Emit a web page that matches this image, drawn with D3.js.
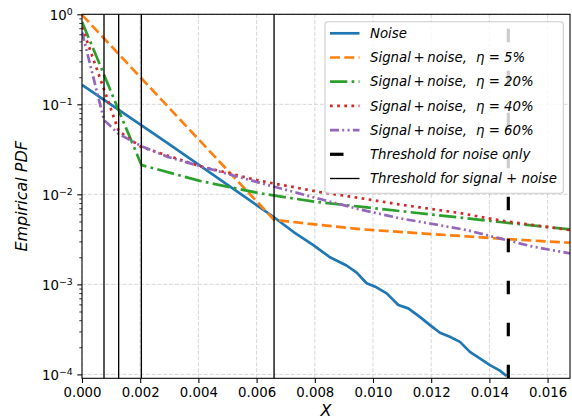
<!DOCTYPE html>
<html>
<head>
<meta charset="utf-8">
<script src="https://cdn.jsdelivr.net/npm/d3@7"></script>
<style>
  html, body { margin: 0; padding: 0; background: #fff; }
  svg text { font-family: "DejaVu Sans", sans-serif; fill: #000; }
  .leg text { white-space: pre; }
</style>
</head>
<body>
<svg id="chart" width="572" height="419"></svg>
<script>
// ---- data: X values and empirical PDF for each curve ----
const noiseX = [0, 0.002955, 0.006573, 0.00726, 0.00795, 0.00852, 0.00909, 0.00944, 0.00978, 0.01012,
                0.01047, 0.01087, 0.01121, 0.01161, 0.01196, 0.0123, 0.01264, 0.01299, 0.01333, 0.01367,
                0.01402, 0.01436, 0.01459];
const noiseY = [0.164, 0.0369, 5.64e-3, 3.84e-3, 2.73e-3, 2.0e-3, 1.62e-3, 1.35e-3, 1.03e-3, 9.27e-4,
                7.94e-4, 5.89e-4, 5.41e-4, 4.36e-4, 3.53e-4, 2.9e-4, 2.62e-4, 2.3e-4, 1.78e-4, 1.51e-4,
                1.27e-4, 1.1e-4, 9.6e-5];

const eta5X = [0, 0.0066, 0.00955, 0.01299, 0.01436, 0.01677];
const eta5Y = [0.985, 5.2e-3, 4.1e-3, 3.45e-3, 3.22e-3, 2.9e-3];

const eta20X = [0, 0.00204, 0.00405, 0.00612, 0.008, 0.00955, 0.01093, 0.01299, 0.01436, 0.01677];
const eta20Y = [0.828, 0.0212, 0.0141, 0.01026, 8.28e-3, 7.3e-3, 6.52e-3, 5.52e-3, 4.93e-3, 4.08e-3];

const eta40X = [0, 0.00126, 0.00203, 0.00405, 0.00612, 0.00818, 0.00955, 0.01093, 0.01299, 0.01436, 0.01677];
const eta40Y = [0.722, 0.0505, 0.0336, 0.0206, 0.0141, 0.0106, 9.1e-3, 7.7e-3, 6.2e-3, 5.13e-3, 4.01e-3];

const eta60X = [0, 0.000756, 0.00126, 0.00203, 0.00295, 0.00405, 0.00612, 0.00818, 0.00955, 0.01093,
                0.01206, 0.01322, 0.01436, 0.0155, 0.01677];
const eta60Y = [0.636, 0.067, 0.0468, 0.0344, 0.026, 0.0206, 0.0134, 8.87e-3, 6.8e-3, 5.41e-3,
                4.68e-3, 4.01e-3, 3.24e-3, 2.62e-3, 2.21e-3];

// thresholds
const thresholdNoise = 0.01465;
const thresholdSignal = [0.000756, 0.00126, 0.00204, 0.0066];

// axis ticks
const xTicks = [0, 0.002, 0.004, 0.006, 0.008, 0.010, 0.012, 0.014, 0.016];
const yTickExps = [0, -1, -2, -3, -4];

// legend entries: [main text, eta part]
const legendLabels = [
  ["Noise", null],
  ["Signal\u2009+\u2009noise,", "η = 5%"],
  ["Signal\u2009+\u2009noise,", "η = 20%"],
  ["Signal\u2009+\u2009noise,", "η = 40%"],
  ["Signal\u2009+\u2009noise,", "η = 60%"],
  ["Threshold for noise only", null],
  ["Threshold for signal + noise", null]
];

// ---- layout ----
const W = 572, H = 419;
const margin = { left: 82, top: 14.3, right: 2, bottom: 40.7 };
const pw = W - margin.left - margin.right;
const ph = H - margin.top - margin.bottom;

const xMax = eta5X[eta5X.length - 1];
const yMin = 9.05e-5, yMax = 1;

const x = d3.scaleLinear().domain([0, xMax]).range([margin.left, margin.left + pw]);
const y = d3.scaleLog().domain([yMin, yMax]).range([margin.top + ph, margin.top]);

const svg = d3.select("#chart");

svg.append("defs").append("clipPath").attr("id", "plotclip")
  .append("rect").attr("x", margin.left).attr("y", margin.top).attr("width", pw).attr("height", ph);

// grid
const grid = svg.append("g").attr("stroke", "#d3d3d3").attr("stroke-width", 0.9)
  .attr("stroke-dasharray", "4,1.8").attr("fill", "none");
xTicks.forEach(t => {
  grid.append("line").attr("x1", x(t)).attr("x2", x(t))
    .attr("y1", margin.top).attr("y2", margin.top + ph);
});
yTickExps.forEach(e => {
  grid.append("line").attr("x1", margin.left).attr("x2", margin.left + pw)
    .attr("y1", y(Math.pow(10, e))).attr("y2", y(Math.pow(10, e)));
});

// curves
const line = d3.line().x(d => x(d[0])).y(d => y(d[1]));
const zip = (a, b) => a.map((v, i) => [v, b[i]]);

const series = [
  { xs: noiseX, ys: noiseY, color: "#1f77b4", dash: null },
  { xs: eta5X,  ys: eta5Y,  color: "#ff7f0e", dash: "10,4.3" },
  { xs: eta20X, ys: eta20Y, color: "#2ca02c", dash: "17.3,4.3,2.7,4.3" },
  { xs: eta40X, ys: eta40Y, color: "#d62728", dash: "2.7,4.45" },
  { xs: eta60X, ys: eta60Y, color: "#9467bd", dash: "9,3.3,2,3.3,2,3.3" }
];

const curves = svg.append("g").attr("clip-path", "url(#plotclip)");
series.forEach(s => {
  curves.append("path")
    .attr("d", line(zip(s.xs, s.ys)))
    .attr("fill", "none")
    .attr("stroke", s.color)
    .attr("stroke-width", 2.7)
    .attr("stroke-linejoin", "round")
    .attr("stroke-dasharray", s.dash);
});

// threshold lines
const vlines = svg.append("g").attr("clip-path", "url(#plotclip)");
thresholdSignal.forEach(t => {
  vlines.append("path")
    .attr("d", line([[t, yMin], [t, yMax]]))
    .attr("stroke", "#000").attr("stroke-width", 1.33).attr("fill", "none");
});
vlines.append("path")
  .attr("d", line([[thresholdNoise, yMin], [thresholdNoise, yMax]]))
  .attr("stroke", "#000").attr("stroke-width", 3.2).attr("fill", "none")
  .attr("stroke-dasharray", "13.5,28.5");

// axes
const xAxis = d3.axisBottom(x).tickValues(xTicks).tickFormat(d3.format(".3f"))
  .tickSize(4.7).tickPadding(4.2);
const gx = svg.append("g").attr("transform", `translate(0,${margin.top + ph})`).call(xAxis);
gx.select(".domain").remove();
gx.selectAll(".tick line").attr("stroke", "#000").attr("stroke-width", 1.07);
gx.selectAll(".tick text").attr("font-size", "13.3px").attr("font-family", "DejaVu Sans")
  .attr("fill", "#222");

const minorY = [];
for (let e = -5; e < 0; e++) {
  for (let k = 2; k <= 9; k++) {
    const v = k * Math.pow(10, e);
    if (v >= yMin && v <= yMax) minorY.push(v);
  }
}
const gyMinor = svg.append("g").attr("transform", `translate(${margin.left},0)`)
  .call(d3.axisLeft(y).tickValues(minorY).tickFormat("").tickSize(2.7));
gyMinor.select(".domain").remove();
gyMinor.selectAll(".tick line").attr("stroke", "#000").attr("stroke-width", 0.8);

const gy = svg.append("g").attr("transform", `translate(${margin.left},0)`)
  .call(d3.axisLeft(y).tickValues(yTickExps.map(e => Math.pow(10, e))).tickFormat("").tickSize(4.7));
gy.select(".domain").remove();
gy.selectAll(".tick line").attr("stroke", "#000").attr("stroke-width", 1.07);

// power-of-ten tick labels
gy.selectAll(".tick").each(function(d) {
  const e = Math.round(Math.log10(d));
  const t = d3.select(this).append("text")
    .attr("x", -9.4).attr("y", 0).attr("dy", "0.42em")
    .attr("text-anchor", "end").attr("font-size", "13.3px").attr("fill", "#222");
  t.append("tspan").text("10");
  t.append("tspan").attr("font-size", "9.3px").attr("dy", "-0.55em")
    .text(e === 0 ? "0" : "\u2212" + Math.abs(e));
});

// frame
svg.append("rect").attr("x", margin.left).attr("y", margin.top).attr("width", pw).attr("height", ph)
  .attr("fill", "none").attr("stroke", "#000").attr("stroke-width", 1.07);

// axis labels
svg.append("text").attr("x", margin.left + pw / 2).attr("y", 415.5)
  .attr("text-anchor", "middle").attr("font-size", "16px").attr("font-style", "italic")
  .text("X");
svg.append("text").attr("transform", `translate(26.7,${margin.top + ph / 2}) rotate(-90)`)
  .attr("text-anchor", "middle").attr("font-size", "16px").attr("font-style", "italic")
  .text("Empirical PDF");

// legend
const leg = svg.append("g").attr("class", "leg");
leg.append("rect").attr("x", 325).attr("y", 21.7).attr("width", 238.3).attr("height", 171.6)
  .attr("rx", 2.7).attr("fill", "#fff").attr("fill-opacity", 0.8)
  .attr("stroke", "#cccccc").attr("stroke-width", 1.07);

const legendStyles = series.map(s => ({ color: s.color, dash: s.dash, width: 2.7 }))
  .concat([{ color: "#000", dash: "13.5,28.5", width: 3.2 }, { color: "#000", dash: null, width: 1.33 }]);

legendLabels.forEach((lab, i) => {
  const cy = 33.3 + i * 24.2;
  const st = legendStyles[i];
  leg.append("line").attr("x1", 330).attr("x2", 359.5).attr("y1", cy).attr("y2", cy)
    .attr("stroke", st.color).attr("stroke-width", st.width).attr("stroke-dasharray", st.dash);
  const t = leg.append("text").attr("x", 370).attr("y", cy).attr("dy", "0.36em")
    .attr("font-size", "13.3px").attr("font-style", "italic");
  t.append("tspan").text(lab[0]);
  if (lab[1]) t.append("tspan").attr("x", 476).text(lab[1]);
});
</script>
</body>
</html>
